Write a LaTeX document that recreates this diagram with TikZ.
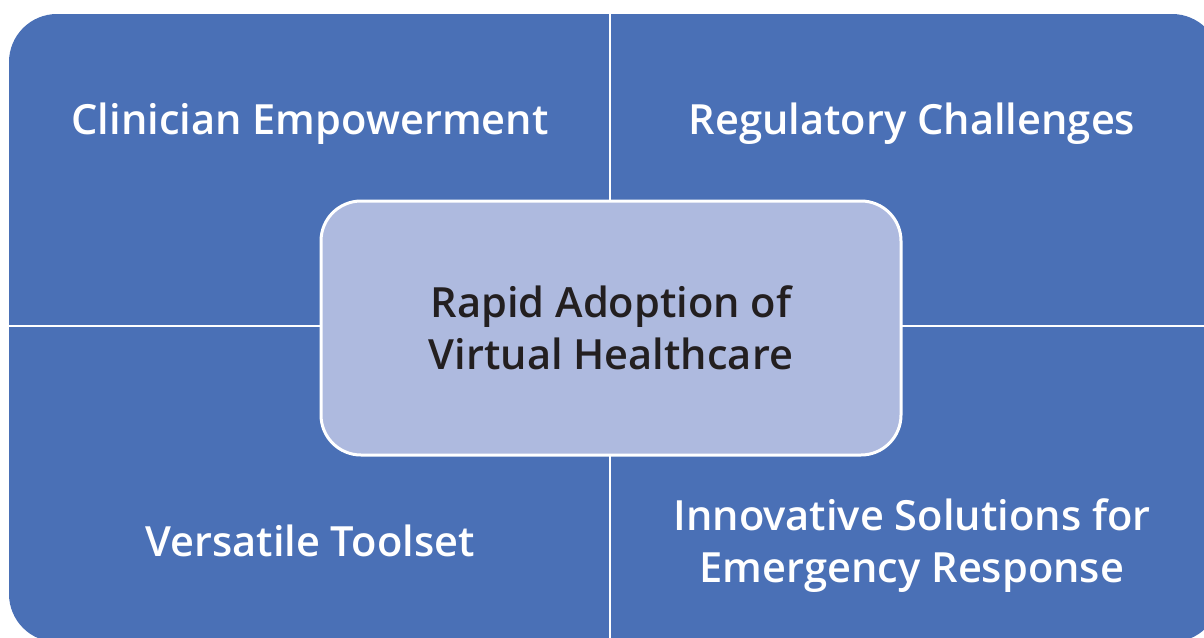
\documentclass[tikz,border=0pt]{standalone}
\usepackage{fontspec}
% Prefer a semibold cut when one is installed, otherwise fall back to bold
\IfFontExistsTF{Open Sans Semibold}{%
  \setmainfont{Open Sans Semibold}\def\labelweight{}\def\labelsize{41.6}}{%
  \IfFontExistsTF{OpenSans-Semibold}{%
    \setmainfont{OpenSans-Semibold}\def\labelweight{}\def\labelsize{41.6}}{%
    \IfFontExistsTF{OpenSans-SemiBold}{%
      \setmainfont{OpenSans-SemiBold}\def\labelweight{}\def\labelsize{41.6}}{%
      \setmainfont{Open Sans}\def\labelweight{\bfseries}\def\labelsize{40.4}}}}
\definecolor{quadblue}{HTML}{4A70B6}
\definecolor{corefill}{HTML}{AEBADF}
\definecolor{coretext}{HTML}{231F20}
\newcommand\labelfont{\fontsize{\labelsize}{52}\selectfont\labelweight}
\begin{document}
\begin{tikzpicture}[x=1pt,y=-1pt,
  quadlabel/.style={text=white,font=\labelfont,align=center,inner sep=0pt},
  divider/.style={draw=white,line width=2.5pt},
  corebox/.style={draw=white,line width=3pt,fill=corefill,rounded corners=40pt,
    minimum width=580pt,minimum height=254pt,inner sep=0pt,
    text=coretext,font=\labelfont,align=center}]
  \useasboundingbox (0,0) rectangle (1204,637);
  % quadrant field
  \begin{scope}
    \clip (0,0) rectangle (1204,637);
    \fill[quadblue,rounded corners=48pt] (9,14) rectangle (1220,642);
    \draw[divider] (610,14) -- (610,642);
    \draw[divider] (9,326) -- (1220,326);
  \end{scope}
  % quadrant labels
  \node[quadlabel,anchor=base] (clin) at (310,134) {Clinician Empowerment};
  \node[quadlabel,anchor=base] (reg) at (912,134) {Regulatory Challenges};
  \node[quadlabel,anchor=base] (vers) at (310,556) {Versatile Toolset};
  \node[quadlabel,anchor=base] (innov) at (912,582) {Innovative Solutions for\\Emergency Response};
  % central theme
  \node[corebox] (core) at (611,328) {Rapid Adoption of\\Virtual Healthcare};
\end{tikzpicture}
\end{document}
